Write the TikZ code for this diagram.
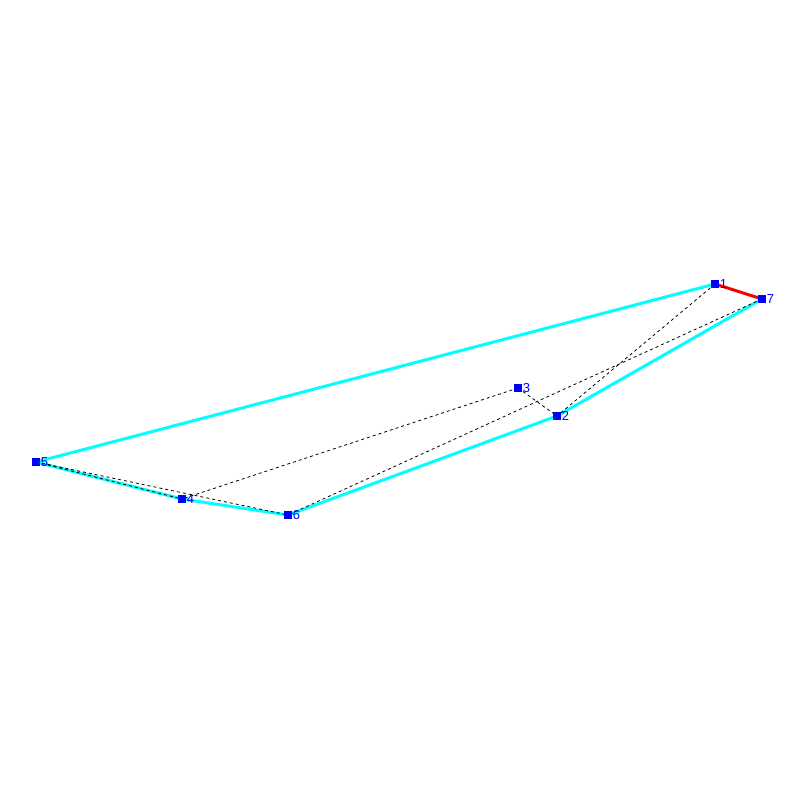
\documentclass[tikz,border=0pt]{standalone}
\usepackage{fontspec}
\setmainfont{Liberation Sans}
\definecolor{aqua}{RGB}{0,255,255}
\definecolor{pureblue}{RGB}{0,0,255}
\definecolor{purered}{RGB}{255,0,0}
\begin{document}
\begin{tikzpicture}[x=1pt,y=-1pt,
  pt/.style={fill=pureblue,minimum size=8pt,inner sep=0pt,draw=none},
  lbl/.style={text=pureblue,font=\fontsize{13}{13}\selectfont,inner sep=0pt,anchor=west},
  hull/.style={aqua,line width=3pt},
  redge/.style={purered,line width=3pt},
  dedge/.style={black,line width=0.8pt,dash pattern=on 3pt off 3pt}]
\useasboundingbox (0,0) rectangle (800,800);
\coordinate (p1) at (715,284);
\coordinate (p2) at (557,416);
\coordinate (p3) at (518,388);
\coordinate (p4) at (182,499);
\coordinate (p5) at (36,462);
\coordinate (p6) at (288,515);
\coordinate (p7) at (762,299);
\draw[hull] (p5) -- (p1);
\draw[hull] (p5) -- (p4) -- (p6) -- (p2) -- (p7);
\draw[redge] (p1) -- (p7);
\draw[dedge] (p1) -- (p2);
\draw[dedge] (p7) -- (p6);
\draw[dedge] (p3) -- (p2);
\draw[dedge] (p3) -- (p4);
\draw[dedge] (p5) -- (p6);
\draw[dedge] (p5) -- (p4);
\foreach \i in {1,...,7} {
  \node[pt] (n\i) at (p\i) {};
  \node[lbl] (l\i) at ([xshift=0.5pt]n\i.east) {\i};
}
\end{tikzpicture}
\end{document}
